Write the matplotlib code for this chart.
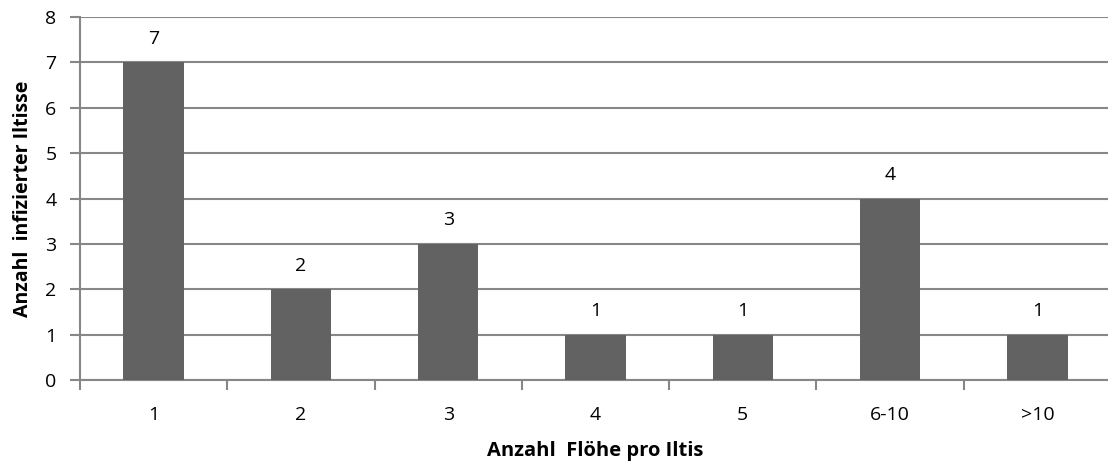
import matplotlib.pyplot as plt
import numpy as np

# Data
categories = ['1', '2', '3', '4', '5', '6-10', '>10']
counts = [7, 2, 3, 1, 1, 4, 1]
y_ticks = [0, 1, 2, 3, 4, 5, 6, 7, 8]

plt.rcParams['font.family'] = ['Open Sans', 'DejaVu Sans']

fig = plt.figure(figsize=(11.08, 4.70), dpi=100)
ax = fig.add_axes([80 / 1108, 90 / 470, 1031 / 1108, 363 / 470])

bar_color = '#626262'
grid_color = '#878787'

x = np.arange(len(categories))
ax.bar(x, counts, width=0.41, color=bar_color, zorder=3)

for xi, v in zip(x, counts):
    ax.text(xi, v + 0.32, str(v), ha='center', va='bottom', fontsize=14, color='black')

ax.set_xlim(-0.5, len(categories) - 0.5)
ax.set_ylim(0, 8)
ax.set_yticks(y_ticks)
ax.yaxis.grid(True, color=grid_color, linewidth=1.5, zorder=0)

# category ticks sit on the boundaries between categories
ax.set_xticks(x)
ax.set_xticklabels(categories, fontsize=14)
ax.tick_params(axis='x', which='major', length=0, pad=19)
ax.set_xticks(np.arange(len(categories) + 1) - 0.5, minor=True)
ax.tick_params(axis='x', which='minor', length=7, width=1.5, color=grid_color, direction='out')
ax.tick_params(axis='y', length=7, width=1.5, color=grid_color, direction='out', labelsize=14, pad=10)

for side in ['top', 'right']:
    ax.spines[side].set_visible(False)
for side in ['left', 'bottom']:
    ax.spines[side].set_color(grid_color)
    ax.spines[side].set_linewidth(1.5)

ax.set_xlabel('Anzahl  Flöhe pro Iltis', fontsize=14.5, fontweight='bold', labelpad=12)
ax.set_ylabel('Anzahl  infizierter Iltisse', fontsize=14, fontweight='bold', labelpad=9)

fig.savefig('out.png', dpi=100)
